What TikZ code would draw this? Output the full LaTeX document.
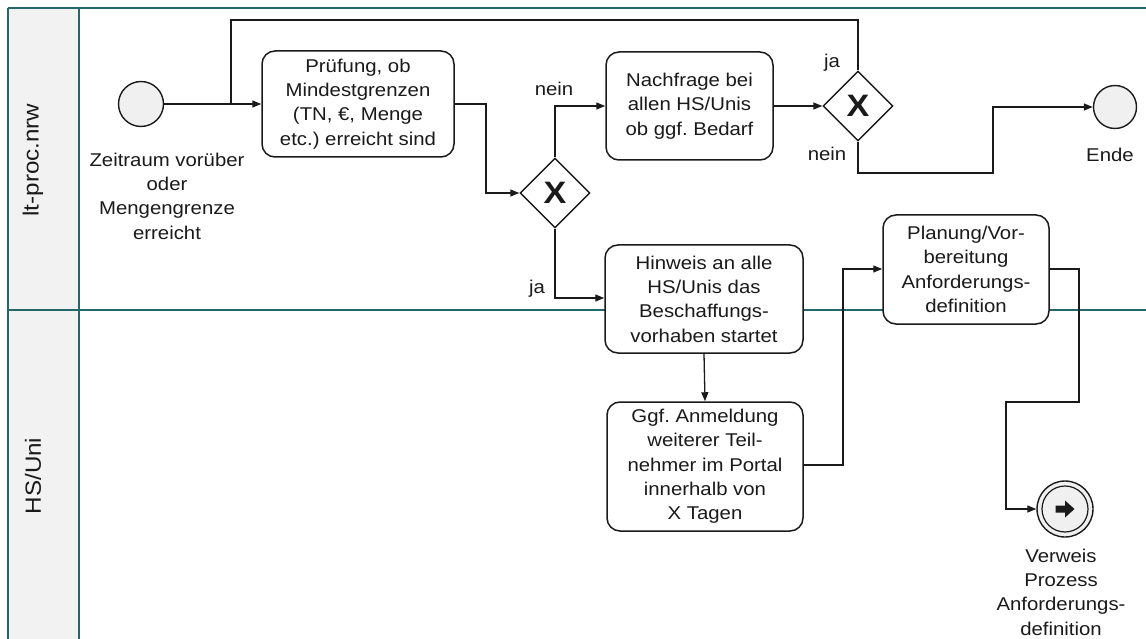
\documentclass[tikz,border=0pt]{standalone}
\usepackage{fontspec}
\setmainfont{Liberation Sans}[FakeStretch=1.1]
\usetikzlibrary{arrows.meta,shapes.geometric,calc}
\definecolor{lane}{HTML}{226868}
\definecolor{lanefill}{HTML}{F2F2F2}
\definecolor{evfill}{HTML}{F0F0F0}
\definecolor{ink}{HTML}{1A1A1A}
\frenchspacing
\begin{document}
\begin{tikzpicture}[x=1pt,y=-1pt,
  every node/.style={font=\fontsize{18.5}{24.3}\selectfont, text=ink},
  task/.style={draw=ink, line width=1.5pt, rounded corners=13pt, fill=white, align=center, inner sep=0pt},
  gateway/.style={draw=ink, line width=1.4pt, diamond, fill=white, minimum width=70pt, minimum height=70pt, inner sep=0pt, font=\fontsize{31}{31}\selectfont\bfseries},
  event/.style={draw=ink, line width=1.4pt, circle, fill=evfill, inner sep=0pt},
  lbl/.style={align=center, inner sep=0pt},
  lanelbl/.style={rotate=90, inner sep=0pt, font=\fontsize{22}{26}\selectfont},
  flow/.style={draw=ink, line width=1.3pt, -{Triangle[length=9pt,width=7pt]}},
  plain/.style={draw=ink, line width=1.3pt},
  laneline/.style={draw=lane, line width=1.8pt}
]
\useasboundingbox (0,0) rectangle (1146,639);

% pool and lanes
\fill[lanefill] (8,8) rectangle (79,639);
\draw[laneline] (8,8) -- (1146,8);
\draw[laneline] (8,310) -- (1146,310);
\draw[laneline, line width=1.4pt] (8,8) -- (8,639);
\draw[laneline, line width=1.4pt] (79,8) -- (79,639);
\node[lanelbl] (laneA) at (33,160) {lt-proc.nrw};
\node[lanelbl] (laneB) at (33,476) {HS/Uni};

% events
\node[event, minimum size=45pt] (start) at (141,104) {};
\node[lbl] (startlbl) at (167,196) {Zeitraum vorüber\\oder\\Mengengrenze\\erreicht};
\node[event, minimum size=43pt] (ende) at (1115,107) {};
\node[lbl] (endelbl) at (1110,155) {Ende};
\node[event, minimum size=56pt] (verweis) at (1065,509) {};
\draw[ink, line width=1.2pt] (verweis.center) circle (23pt);
\fill[ink] ($(verweis.center)+(-9.5,-3.5)$) -- ++(9.5,0) -- ++(0,-5) -- ++(9.5,8.5)
  -- ++(-9.5,8.5) -- ++(0,-5) -- ++(-9.5,0) -- cycle;
\node[lbl] (verweislbl) at (1061,592) {Verweis\\Prozess\\Anforderungs-\\definition};

% tasks
\node[task, minimum width=192pt, minimum height=106pt] (t1) at (358,104)
  {Prüfung, ob\\Mindestgrenzen\\(TN, €, Menge\\etc.) erreicht sind};
\node[task, minimum width=167pt, minimum height=108pt] (t2) at (689.5,106)
  {Nachfrage bei\\allen HS/Unis\\ob ggf. Bedarf};
\node[task, minimum width=198pt, minimum height=108pt] (t3) at (704,299)
  {Hinweis an alle\\HS/Unis das\\Beschaffungs-\\vorhaben startet};
\node[task, minimum width=196pt, minimum height=129pt] (t4) at (705,466.5)
  {Ggf. Anmeldung\\weiterer Teil-\\nehmer im Portal\\innerhalb von\\X Tagen};
\node[task, minimum width=166pt, minimum height=109pt] (t5) at (966,269.5)
  {Planung/Vor-\\bereitung\\Anforderungs-\\definition};

% gateways
\node[gateway] (g1) at (555,193) {X};
\node[gateway] (g2) at (858,106) {X};

% flow labels
\node[lbl] (nein1) at (554,89) {nein};
\node[lbl] (ja1) at (537,289) {ja};
\node[lbl] (ja2) at (832,63) {ja};
\node[lbl] (nein2) at (827,154) {nein};

% helper points of the routed flows
\coordinate (loopA) at (858,20);
\coordinate (loopB) at (231,20);
\coordinate (join) at (231,104);

% sequence flows
\draw[flow] (start.east) -- (t1.west);
\draw[plain] (g2.north) -- (loopA) -- (loopB) -- (join);
\draw[flow] (t1.east) -- (486,104) -- (486,193) -- (g1.west);
\draw[flow] (g1.north) -- (555,106) -- (t2.west);
\draw[flow] (g1.south) -- (555,298) -- (t3.west |- 0,298);
\draw[flow] (t2.east) -- (g2.west);
\draw[flow] (g2.south) -- (858,173) -- (993,173) -- (993,107) -- (ende.west);
\draw[flow] (t3.south) -- (t4.north);
\draw[flow] (t4.east |- 0,465) -- (843,465) -- (843,269) -- (t5.west |- 0,269);
\draw[flow] (t5.east |- 0,269) -- (1079,269) -- (1079,402) -- (1006,402) -- (1006,509) -- (verweis.west);
\end{tikzpicture}
\end{document}
